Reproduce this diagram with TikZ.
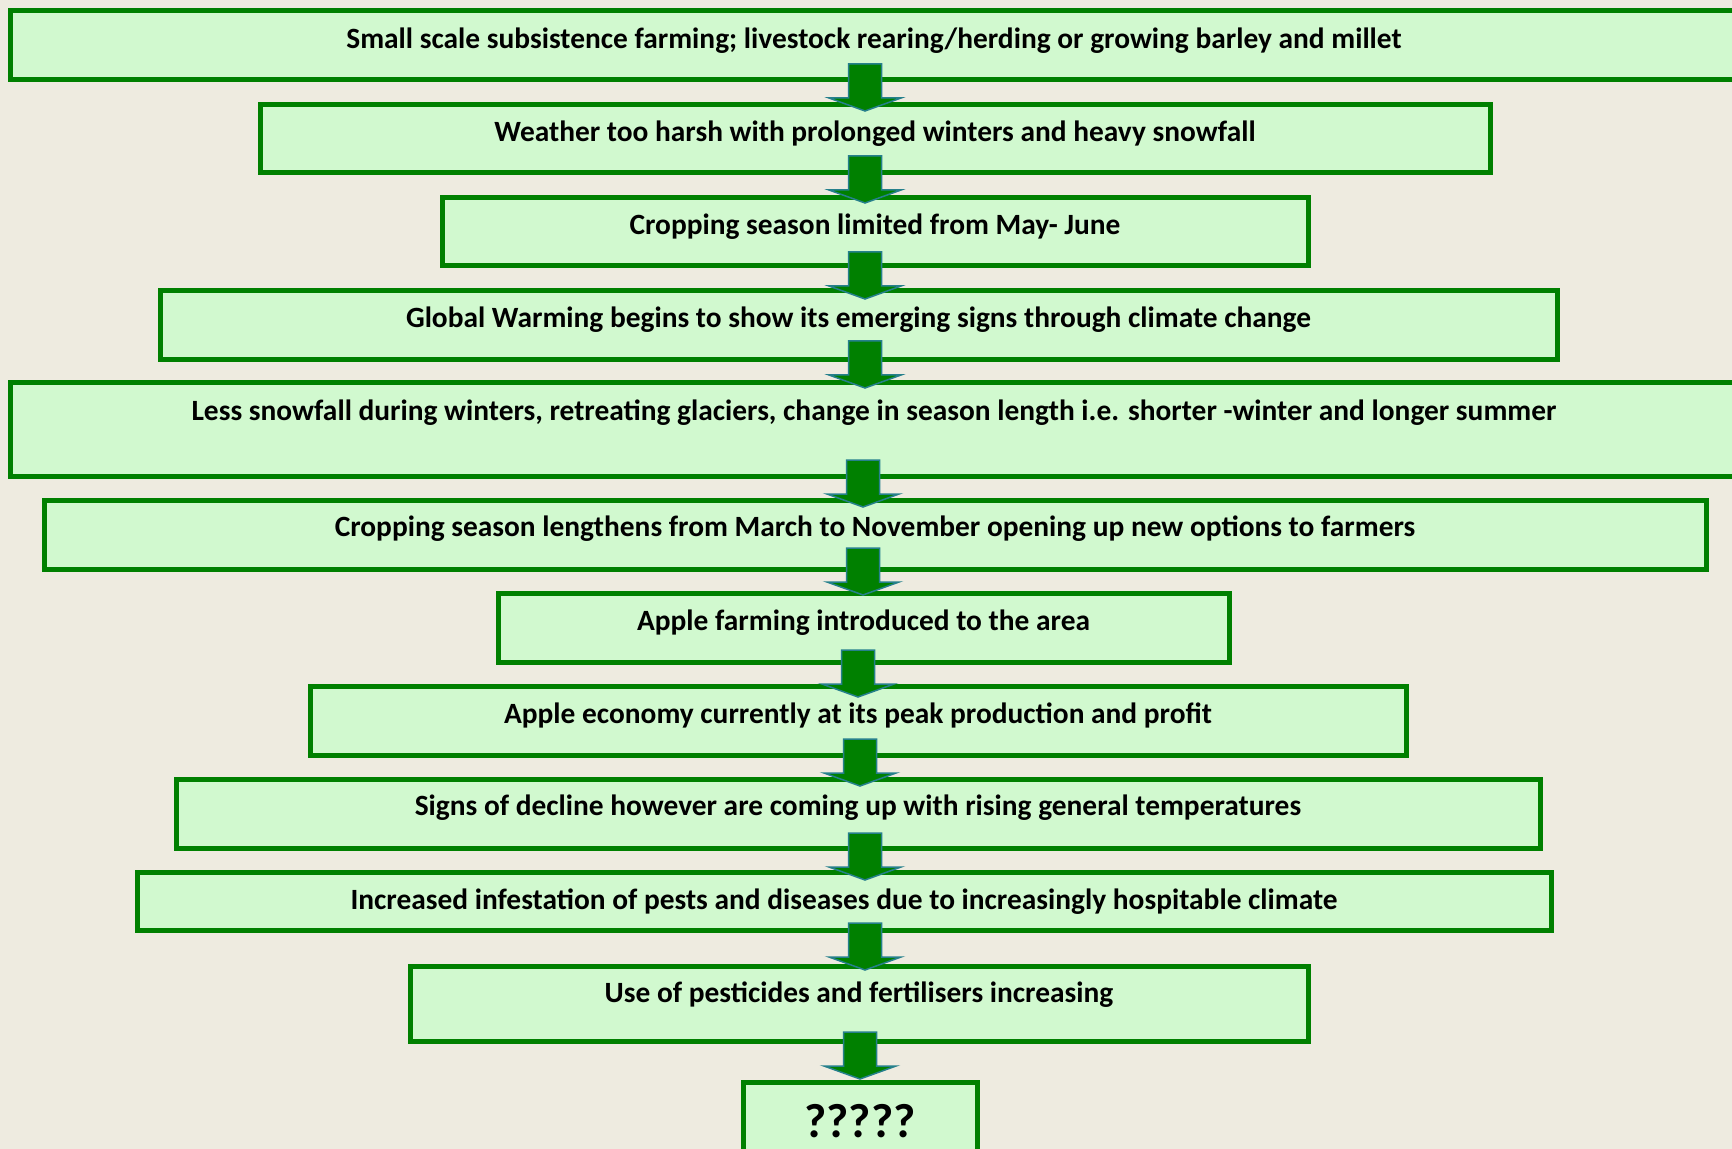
\documentclass[tikz,border=0pt]{standalone}
\usepackage{fontspec}
\setmainfont{Carlito}
\definecolor{bg}{RGB}{238,235,224}
\definecolor{boxfill}{RGB}{209,249,207}
\definecolor{boxline}{RGB}{0,128,0}
\definecolor{arrowfill}{RGB}{0,128,0}
\definecolor{arrowline}{RGB}{38,128,140}
\begin{document}
\begin{tikzpicture}[x=0.5pt,y=-0.5pt,
  box/.style={draw=boxline, fill=boxfill, line width=2.5pt, inner sep=0pt},
  txt/.style={font=\fontsize{14.7}{17}\selectfont\bfseries, text height=0.75em, text depth=0.25em, inner sep=0pt, yshift=-2.2pt},
  big/.style={font=\fontsize{24}{28}\selectfont\bfseries, text height=0.75em, text depth=0.25em, inner sep=0pt, yshift=-5.5pt},
  blkarrow/.pic={\path[fill=arrowfill, draw=arrowline, line width=0.75pt, line join=miter]
     (-16.5,0) -- (16.5,0) -- (16.5,34) -- (36,34) -- (0,47) -- (-36,34) -- (-16.5,34) -- cycle;}
]
\fill[bg] (0,0) rectangle (1732,1149);
\useasboundingbox (0,0) rectangle (1732,1149);

\node[box, minimum width=864pt, minimum height=34.5pt] (b1) at (874,45.5) {};
\node[box, minimum width=615pt, minimum height=34pt] (b2) at (875,139) {};
\node[box, minimum width=433pt, minimum height=34pt] (b3) at (875,232) {};
\node[box, minimum width=698.5pt, minimum height=34.5pt] (b4) at (858.5,325.5) {};
\node[box, minimum width=864pt, minimum height=46.5pt] (b5) at (874,429.5) {};
\node[box, minimum width=831pt, minimum height=34.5pt] (b6) at (875,534.5) {};
\node[box, minimum width=365.5pt, minimum height=34.5pt] (b7) at (863.5,627.5) {};
\node[box, minimum width=548pt, minimum height=34.5pt] (b8) at (858,720.5) {};
\node[box, minimum width=682pt, minimum height=34.5pt] (b9) at (858,813.5) {};
\node[box, minimum width=707pt, minimum height=29pt] (b10) at (844,901) {};
\node[box, minimum width=449pt, minimum height=37.5pt] (b11) at (859,1003.5) {};
\node[box, minimum width=117pt, minimum height=44pt] (b12) at (860,1126) {};

\node[txt] (t1) at (874,38.7) {Small scale subsistence farming; livestock rearing/herding or growing barley and millet};
\node[txt] (t2) at (875,132.6) {Weather too harsh with prolonged winters and heavy snowfall};
\node[txt] (t3) at (875,225.3) {Cropping season limited from May- June};
\node[txt] (t4) at (858.5,318.1) {Global Warming begins to show its emerging signs through climate change};
\node[txt] (t5) at (874,410.9) {Less snowfall during winters, retreating glaciers, change in season length i.e. shorter -winter and longer summer};
\node[txt] (t6) at (875,526.9) {Cropping season lengthens from March to November opening up new options to farmers};
\node[txt] (t7) at (863.5,620.8) {Apple farming introduced to the area};
\node[txt] (t8) at (858,713.6) {Apple economy currently at its peak production and profit};
\node[txt] (t9) at (858,806.4) {Signs of decline however are coming up with rising general temperatures};
\node[txt] (t10) at (844,900.2) {Increased infestation of pests and diseases due to increasingly hospitable climate};
\node[txt] (t11) at (859,993) {Use of pesticides and fertilisers increasing};
\node[big] (t12) at (860,1121) {?????};

\pic at (865,64) {blkarrow};
\pic at (865,156) {blkarrow};
\pic at (865,252) {blkarrow};
\pic at (865,341) {blkarrow};
\pic at (863,460) {blkarrow};
\pic at (863,548) {blkarrow};
\pic at (858,650) {blkarrow};
\pic at (860,739) {blkarrow};
\pic at (865,833) {blkarrow};
\pic at (865,923) {blkarrow};
\pic at (860,1032) {blkarrow};
\end{tikzpicture}
\end{document}
